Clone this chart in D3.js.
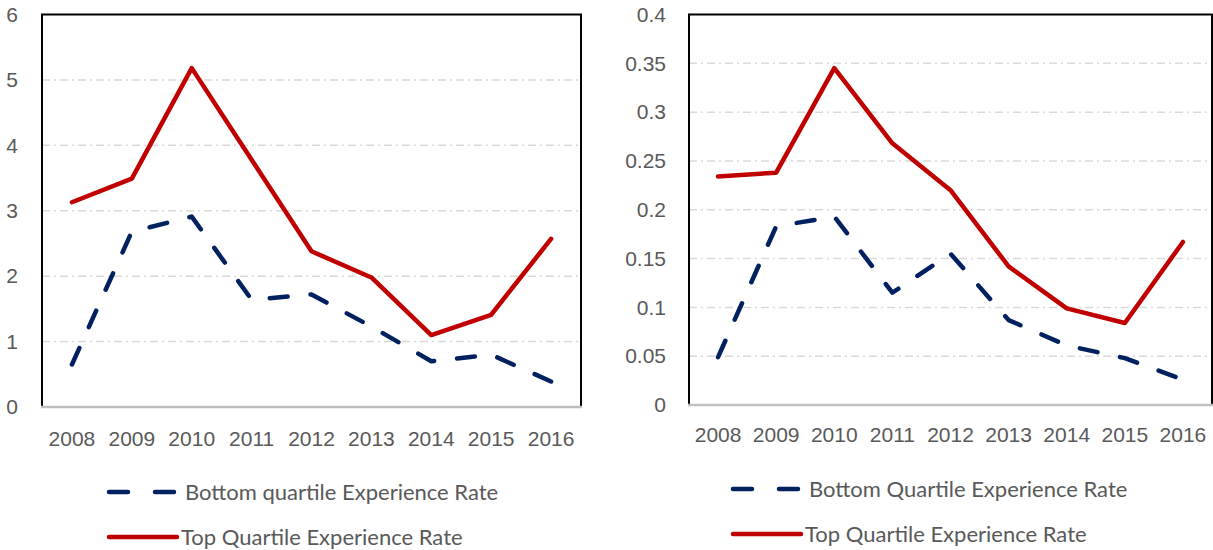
<!DOCTYPE html>
<html>
<head>
<meta charset="utf-8">
<script src="https://cdn.jsdelivr.net/npm/d3@7"></script>
<style>
  body { margin: 0; background: #fff; }
  svg { display: block; font-family: Lato, "Open Sans", sans-serif; }
  .axis text { fill: #595959; font-size: 21px; }
  .legend text { fill: #595959; font-size: 22px; }
</style>
</head>
<body>
<div id="chart"></div>
<script>
// data
var years = ["2008", "2009", "2010", "2011", "2012", "2013", "2014", "2015", "2016"];

var leftBottom = [0.65, 2.68, 2.91, 1.64, 1.72, 1.23, 0.70, 0.80, 0.39];
var leftTop    = [3.13, 3.49, 5.18, 3.78, 2.38, 1.98, 1.10, 1.41, 2.57];
var leftTicks  = [0, 1, 2, 3, 4, 5, 6];

var rightBottom = [0.049, 0.183, 0.193, 0.115, 0.155, 0.087, 0.061, 0.048, 0.026];
var rightTop    = [0.234, 0.238, 0.345, 0.268, 0.220, 0.142, 0.099, 0.084, 0.167];
var rightTicks  = [0, 0.05, 0.1, 0.15, 0.2, 0.25, 0.3, 0.35, 0.4];

var leftNames  = ["Bottom quartile Experience Rate", "Top Quartile Experience Rate"];
var rightNames = ["Bottom Quartile Experience Rate", "Top Quartile Experience Rate"];

var blue = "#002060", red = "#c00000";

var svg = d3.select("#chart")
  .append("svg")
    .attr("width", 1213)
    .attr("height", 550);

svg.append("rect").attr("width", 1213).attr("height", 550).attr("fill", "#fff");

function drawChart(opts) {
  var x = d3.scaleBand()
      .domain(years)
      .range([opts.left, opts.right])
      .padding(0);

  var y = d3.scaleLinear()
      .domain([0, d3.max(opts.ticks)])
      .range([opts.bottom, opts.top]);

  var g = svg.append("g");

  // dash-dot gridlines
  g.selectAll(".grid")
    .data(opts.ticks.slice(1, -1))
    .enter().append("line")
      .attr("class", "grid")
      .attr("x1", opts.left)
      .attr("x2", opts.right)
      .attr("y1", d => y(d))
      .attr("y2", d => y(d))
      .attr("stroke", "#d9d9d9")
      .attr("stroke-width", 1.5)
      .attr("stroke-dasharray", "8,4,2,4");

  // frame (top, left, right black)
  g.append("rect")
    .attr("x", opts.left)
    .attr("y", opts.top)
    .attr("width", opts.right - opts.left)
    .attr("height", opts.bottom - opts.top)
    .attr("fill", "none")
    .attr("stroke", "#000")
    .attr("stroke-width", 2);

  // bottom axis line is grey
  g.append("line")
    .attr("x1", opts.left - 1)
    .attr("x2", opts.right + 1)
    .attr("y1", y(0))
    .attr("y2", y(0))
    .attr("stroke", "#bfbfbf")
    .attr("stroke-width", 2.5);

  var yAx = g.append("g")
    .attr("class", "axis y-axis")
    .attr("transform", "translate(" + opts.left + ",0)")
    .call(d3.axisLeft(y).tickValues(opts.ticks).tickSize(0).tickPadding(opts.yPad)
      .tickFormat(d => String(d)));
  yAx.select(".domain").remove();

  var xAx = g.append("g")
    .attr("class", "axis x-axis")
    .attr("transform", "translate(0," + opts.bottom + ")")
    .call(d3.axisBottom(x).tickSize(0).tickPadding(opts.xPad));
  xAx.select(".domain").remove();

  var line = d3.line()
    .x((d, i) => x(years[i]) + x.bandwidth() / 2)
    .y(d => y(d));

  g.append("path")
    .datum(opts.bottomSeries)
    .attr("d", line)
    .attr("fill", "none")
    .attr("stroke", blue)
    .attr("stroke-width", 4.5)
    .attr("stroke-linecap", "round")
    .attr("stroke-linejoin", "round")
    .attr("stroke-dasharray", "18,23");

  g.append("path")
    .datum(opts.topSeries)
    .attr("d", line)
    .attr("fill", "none")
    .attr("stroke", red)
    .attr("stroke-width", 4.5)
    .attr("stroke-linecap", "round")
    .attr("stroke-linejoin", "round");

  // legend
  var lg = g.append("g").attr("class", "legend")
    .attr("transform", "translate(" + opts.legX + "," + opts.legY + ")");

  lg.append("line")
    .attr("x1", 2).attr("x2", 71).attr("y1", 0).attr("y2", 0)
    .attr("stroke", blue).attr("stroke-width", 4.5)
    .attr("stroke-linecap", "round")
    .attr("stroke-dasharray", "19,27");
  lg.append("text")
    .attr("x", 78).attr("y", 0).attr("dy", "0.35em")
    .text(opts.names[0]);

  lg.append("line")
    .attr("x1", 2).attr("x2", 70).attr("y1", opts.legGap).attr("y2", opts.legGap)
    .attr("stroke", red).attr("stroke-width", 4.5)
    .attr("stroke-linecap", "round");
  lg.append("text")
    .attr("x", 74).attr("y", opts.legGap).attr("dy", "0.35em")
    .text(opts.names[1]);
}

drawChart({
  left: 42, right: 581, top: 14.5, bottom: 407,
  ticks: leftTicks, bottomSeries: leftBottom, topSeries: leftTop,
  yPad: 24, xPad: 24, names: leftNames,
  legX: 107, legY: 492, legGap: 45
});

drawChart({
  left: 689, right: 1212, top: 14.5, bottom: 405,
  ticks: rightTicks, bottomSeries: rightBottom, topSeries: rightTop,
  yPad: 23, xPad: 22, names: rightNames,
  legX: 731, legY: 489, legGap: 45
});
</script>
</body>
</html>
